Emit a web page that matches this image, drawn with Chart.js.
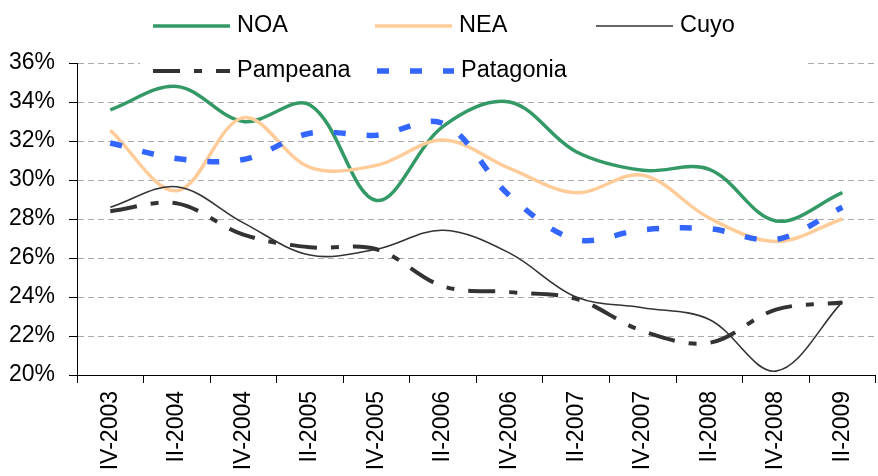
<!DOCTYPE html>
<html>
<head>
<meta charset="utf-8">
<script src="https://cdn.jsdelivr.net/npm/chart.js@4.4.0/dist/chart.umd.min.js"></script>
<style>
    body { margin: 0; background: #fff; }
    canvas { display: block; }
</style>
</head>
<body>
<canvas id="myChart_regiones" width="878" height="476"></canvas>
<script>
const labels = ['IV-2003', 'II-2004', 'IV-2004', 'II-2005', 'IV-2005', 'II-2006',
    'IV-2006', 'II-2007', 'IV-2007', 'II-2008', 'IV-2008', 'II-2009'];

const noa = [33.6, 34.8, 33.0, 33.85, 28.95, 32.75, 34.0, 31.45, 30.5, 30.55, 27.9, 29.35];
const nea = [32.55, 29.45, 33.2, 30.65, 30.75, 32.05, 30.6, 29.35, 30.25, 28.05, 26.85, 28.0];
const cuyo = [28.6, 29.65, 27.8, 26.15, 26.45, 27.42, 26.25, 24.0, 23.45, 22.85, 20.2, 23.75];
const pampeana = [28.4, 28.8, 27.2, 26.55, 26.45, 24.55, 24.25, 23.9, 22.25, 21.65, 23.35, 23.72];
const patagonia = [31.9, 31.1, 31.05, 32.4, 32.3, 32.9, 29.2, 26.95, 27.45, 27.5, 26.95, 28.6];

const yTicks = [20, 22, 24, 26, 28, 30, 32, 34, 36];

const FONT = "'Liberation Sans', Arial, sans-serif";

// leyenda dibujada a mano, encima del area del grafico
const legendPos = [
    { x: 153, y: 26 },
    { x: 375, y: 26 },
    { x: 596, y: 26 },
    { x: 153, y: 71 },
    { x: 377, y: 71 }
];

const legendPlugin = {
    id: 'legendBox',
    beforeDatasetsDraw(chart) {
        const ctx = chart.ctx;
        ctx.save();
        ctx.fillStyle = '#fff';
        ctx.fillRect(140, 50, 665, 28);
        ctx.font = '23.5px ' + FONT;
        ctx.textBaseline = 'middle';
        ctx.textAlign = 'left';
        chart.data.datasets.forEach(function(ds, i) {
            const p = legendPos[i];
            ctx.beginPath();
            ctx.strokeStyle = ds.borderColor;
            ctx.lineWidth = ds.borderWidth;
            ctx.setLineDash(ds.borderDash || []);
            ctx.lineCap = 'butt';
            ctx.moveTo(p.x, p.y);
            ctx.lineTo(p.x + 77, p.y);
            ctx.stroke();
            ctx.setLineDash([]);
            ctx.fillStyle = '#000';
            ctx.fillText(ds.label, p.x + 84, p.y);
        });
        ctx.restore();
    }
};

const data = {
    labels: labels,
    datasets: [{
        label: 'NOA',
        data: noa,
        borderColor: '#339966',
        borderWidth: 3.5,
        order: 5
    }, {
        label: 'NEA',
        data: nea,
        borderColor: '#ffcc99',
        borderWidth: 3.5,
        order: 4
    }, {
        label: 'Cuyo',
        data: cuyo,
        borderColor: '#333333',
        borderWidth: 1.6,
        order: 3
    }, {
        label: 'Pampeana',
        data: pampeana,
        borderColor: '#333333',
        borderWidth: 4,
        borderDash: [27, 14, 8, 14],
        order: 2
    }, {
        label: 'Patagonia',
        data: patagonia,
        borderColor: '#3366ff',
        borderWidth: 5.5,
        borderDash: [12, 21],
        order: 1
    }]
};

const config = {
    type: 'line',
    data: data,
    options: {
        responsive: false,
        animation: false,
        layout: { padding: { top: 63, left: 0, right: 0, bottom: 0 } },
        elements: {
            point: { radius: 0 },
            line: { tension: 0.35, borderCapStyle: 'butt', fill: false }
        },
        plugins: {
            legend: { display: false },
            tooltip: { enabled: false }
        },
        scales: {
            x: {
                type: 'category',
                offset: true,
                grid: {
                    offset: true,
                    drawOnChartArea: false,
                    drawTicks: true,
                    tickLength: 8,
                    tickColor: '#000'
                },
                border: { color: '#000', width: 1 },
                ticks: {
                    color: '#000',
                    font: { family: FONT, size: 23 },
                    minRotation: 90,
                    maxRotation: 90,
                    autoSkip: false,
                    padding: 8
                },
                afterFit: function(scale) { scale.height = 101; }
            },
            y: {
                min: 20,
                max: 36,
                afterBuildTicks: function(scale) {
                    scale.ticks = yTicks.map(function(v) { return { value: v }; });
                },
                grid: {
                    color: '#aaaaaa',
                    lineWidth: 1,
                    tickLength: 8,
                    tickColor: '#000'
                },
                border: { color: '#000', width: 1, dash: [6, 4] },
                ticks: {
                    color: '#000',
                    font: { family: FONT, size: 23 },
                    padding: 14,
                    callback: function(v) { return v + '%'; }
                },
                afterFit: function(scale) { scale.width = 77; }
            }
        }
    },
    plugins: [legendPlugin]
};

const myChart = new Chart(
    document.getElementById('myChart_regiones'),
    config
);
</script>
</body>
</html>
